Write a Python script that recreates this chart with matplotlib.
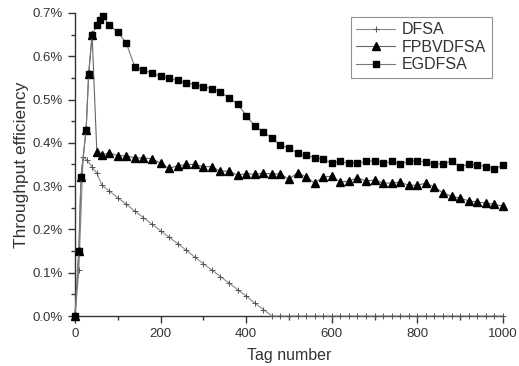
import numpy as np
import matplotlib
matplotlib.use("Agg")
import matplotlib.pyplot as plt
from matplotlib.ticker import MultipleLocator, FuncFormatter

plt.rcParams['font.family'] = ['Liberation Sans', 'DejaVu Sans']

# DFSA (tag number, throughput %)
dfsa_x = [0, 9, 19, 28, 40, 51, 63, 80, 100, 120, 140, 160, 180, 200, 220, 240,
          260, 280, 300, 320, 340, 360, 380, 400, 420, 440, 460, 480, 500, 520,
          540, 560, 580, 600, 620, 640, 660, 680, 700, 720, 740, 760, 780, 800,
          820, 840, 860, 880, 900, 920, 940, 960, 980, 1000]
dfsa_y = [0.0, 0.106, 0.367, 0.360, 0.344, 0.330, 0.302, 0.289, 0.273, 0.258,
          0.242, 0.227, 0.212, 0.197, 0.182, 0.167, 0.152, 0.136, 0.121, 0.106,
          0.091, 0.076, 0.061, 0.046, 0.030, 0.015, 0.0, 0.0, 0.0, 0.0,
          0.0, 0.0, 0.0, 0.0, 0.0, 0.0, 0.0, 0.0, 0.0, 0.0, 0.0, 0.0, 0.0, 0.0,
          0.0, 0.0, 0.0, 0.0, 0.0, 0.0, 0.0, 0.0, 0.0, 0.0]

# FPBVDFSA
fpb_x = [0, 9, 14, 26, 32, 40, 51, 63, 80, 100, 120, 140, 160, 180, 200, 220,
         240, 260, 280, 300, 320, 340, 360, 380, 400, 420, 440, 460, 480, 500,
         520, 540, 560, 580, 600, 620, 640, 660, 680, 700, 720, 740, 760, 780,
         800, 820, 840, 860, 880, 900, 920, 940, 960, 980, 1000]
fpb_y = [0.0, 0.15, 0.32, 0.43, 0.56, 0.65, 0.379, 0.372, 0.377, 0.370, 0.370,
         0.365, 0.365, 0.363, 0.353, 0.341, 0.347, 0.350, 0.350, 0.345, 0.345,
         0.334, 0.335, 0.325, 0.329, 0.327, 0.330, 0.328, 0.328, 0.316, 0.331,
         0.321, 0.307, 0.321, 0.323, 0.309, 0.312, 0.319, 0.312, 0.314, 0.307,
         0.307, 0.309, 0.302, 0.302, 0.307, 0.298, 0.284, 0.277, 0.272, 0.266,
         0.263, 0.261, 0.258, 0.254]

# EGDFSA
eg_x = [0, 9, 14, 26, 32, 40, 51, 58, 65, 80, 100, 120, 140, 160, 180, 200,
        220, 240, 260, 280, 300, 320, 340, 360, 380, 400, 420, 440, 460, 480,
        500, 520, 540, 560, 580, 600, 620, 640, 660, 680, 700, 720, 740, 760,
        780, 800, 820, 840, 860, 880, 900, 920, 940, 960, 980, 1000]
eg_y = [0.0, 0.15, 0.32, 0.43, 0.56, 0.65, 0.672, 0.683, 0.693, 0.672, 0.656,
        0.630, 0.575, 0.568, 0.561, 0.554, 0.549, 0.544, 0.539, 0.534, 0.530,
        0.525, 0.518, 0.503, 0.490, 0.463, 0.439, 0.425, 0.411, 0.395, 0.388,
        0.376, 0.371, 0.366, 0.362, 0.353, 0.357, 0.353, 0.353, 0.357, 0.359,
        0.353, 0.357, 0.352, 0.357, 0.359, 0.355, 0.350, 0.352, 0.357, 0.345,
        0.351, 0.349, 0.345, 0.340, 0.348]

fig = plt.figure(figsize=(5.19, 3.66), dpi=100)
ax = fig.add_axes([0.1445, 0.1366, 0.8245, 0.828])

ax.plot(dfsa_x, dfsa_y, color='#8a8a8a', lw=0.8, marker='+', ms=4.5,
        mec='#555555', mew=0.7, label='DFSA', clip_on=False, zorder=3)
ax.plot(fpb_x, fpb_y, color='#666666', lw=0.8, marker='^', ms=5.5,
        mfc='black', mec='black', label='FPBVDFSA', clip_on=False, zorder=4)
ax.plot(eg_x, eg_y, color='#777777', lw=0.8, marker='s', ms=5,
        mfc='black', mec='black', label='EGDFSA', clip_on=False, zorder=5)

ax.set_xlim(0, 1000)
ax.set_ylim(0, 0.7)
ax.spines['top'].set_visible(False)
ax.spines['right'].set_visible(False)
for s in ['left', 'bottom']:
    ax.spines[s].set_color('#333333')
    ax.spines[s].set_linewidth(1.0)

ax.xaxis.set_major_locator(MultipleLocator(200))
ax.xaxis.set_minor_locator(MultipleLocator(100))
ax.yaxis.set_major_locator(MultipleLocator(0.1))
ax.yaxis.set_minor_locator(MultipleLocator(0.05))
ax.yaxis.set_major_formatter(FuncFormatter(lambda v, p: '%.1f%%' % v))
ax.tick_params(which='major', direction='out', length=5, width=1,
               color='#333333', labelsize=9.5, labelcolor='#333333')
ax.tick_params(which='minor', direction='out', length=3, width=1,
               color='#333333')

ax.set_xlabel('Tag number', fontsize=11.5, color='#333333', labelpad=6)
ax.set_ylabel('Throughput efficiency', fontsize=12.5, color='#333333',
              labelpad=3)

leg = ax.legend(loc='upper right', bbox_to_anchor=(0.974, 0.987),
                borderaxespad=0,
                fontsize=11.5, frameon=True, fancybox=False,
                handlelength=2.4, handletextpad=0.45, borderpad=0.35,
                labelspacing=0.15)
leg.get_frame().set_edgecolor('#777777')
leg.get_frame().set_linewidth(0.8)
for t in leg.get_texts():
    t.set_color('#333333')

fig.savefig('out.png', dpi=100)
